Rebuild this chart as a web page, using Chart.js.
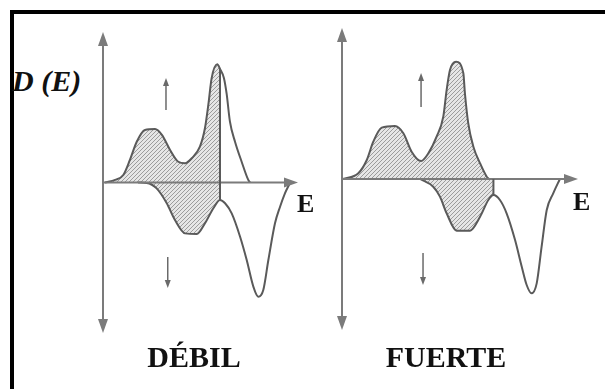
<!DOCTYPE html>
<html lang="es">
<head>
<meta charset="utf-8">
<title>Densidad de estados D(E): débil y fuerte</title>
<script src="https://cdn.jsdelivr.net/npm/chart.js@4.4.1/dist/chart.umd.min.js"></script>
<style>
  html, body { margin: 0; padding: 0; background: #fff; }
  #stage { position: relative; width: 605px; height: 389px; overflow: hidden; background: #fff; }
  .frame { position: absolute; left: 10px; top: 10px; right: -20px; bottom: -20px;
           border-left: 4px solid #000; border-top: 4px solid #000; }
  canvas.panel { position: absolute; }
  .lbl { position: absolute; font-family: "Liberation Serif", "DejaVu Serif", serif; font-weight: bold;
         color: #111; line-height: 1; white-space: nowrap; }
  .title { width: 200px; text-align: center; font-size: 30px; top: 342px; }
  .axis-e { font-size: 26px; }
  .dos { font-size: 30px; font-style: italic; left: 12px; top: 66px; }
</style>
</head>
<body>
<div id="stage">
  <div class="frame"></div>
  <canvas id="debil" class="panel" width="215" height="321" style="left:93px;top:22px"></canvas>
  <canvas id="fuerte" class="panel" width="256" height="322" style="left:332px;top:18px"></canvas>
  <div class="lbl dos">D (E)</div>
  <div class="lbl axis-e" style="left:297px;top:191px">E</div>
  <div class="lbl axis-e" style="left:573px;top:189px">E</div>
  <div class="lbl title" style="left:94px">DÉBIL</div>
  <div class="lbl title" style="left:346px">FUERTE</div>
</div>
<script>
// ---- datos: energía E y densidad de estados D(E) por banda de espín ----

// caso débil
const debilUpE   = [0.1, 0.62, 1.04, 1.38, 1.73, 2.15, 2.67, 3.02, 3.44, 3.86, 4.21, 4.55, 4.97, 5.23, 5.40, 5.57, 5.86, 6.0, 6.2, 6.34, 6.51, 6.77, 7.11, 7.45, 7.54];
const debilUpD   = [0, 0.17, 0.50, 1.50, 2.71, 3.49, 3.55, 3.16, 2.16, 1.38, 1.28, 1.61, 2.38, 3.62, 5.15, 6.92, 7.85, 7.55, 6.95, 5.9, 4.04, 2.71, 1.38, 0.17, 0];
const debilDownE = [1.8, 2.24, 2.75, 3.27, 3.69, 4.21, 4.81, 5.23, 5.66, 6.0, 6.26, 6.60, 7.03, 7.37, 7.71, 7.96, 8.22, 8.48, 8.82, 9.08, 9.33, 9.6];
const debilDownD = [0, -0.03, -0.39, -1.38, -2.49, -3.38, -3.42, -2.71, -1.71, -1.16, -1.38, -2.05, -3.60, -5.15, -6.92, -7.59, -7.14, -5.15, -2.71, -1.61, -0.72, 0];
const debilEF    = 6.0;   // nivel de Fermi
const debilEMax  = 10;
// flechas de espín: posición en E, desde D, hasta D
const debilArrowE    = [3.23, 3.32];
const debilArrowFrom = [4.82, -4.95];
const debilArrowTo   = [6.94, -7.01];

// caso fuerte
const fuerteUpE   = [0.05, 0.83, 1.26, 1.59, 2.02, 2.69, 3.12, 3.54, 4.02, 4.39, 4.81, 5.15, 5.32, 5.49, 5.80, 6.17, 6.25, 6.42, 6.68, 7.02, 7.36, 7.47];
const fuerteUpD   = [0, 0.38, 1.26, 2.47, 3.40, 3.51, 3.03, 1.81, 1.19, 1.70, 2.80, 4.13, 5.89, 7.22, 7.77, 7.00, 5.68, 3.69, 2.14, 1.04, 0.15, 0];
const fuerteDownE = [3.97, 4.64, 4.98, 5.32, 5.83, 6.51, 7.02, 7.44, 7.7, 8.03, 8.37, 8.80, 9.14, 9.39, 9.64, 9.90, 10.15, 10.41, 10.74, 11.08];
const fuerteDownD = [0, -0.51, -1.17, -2.27, -3.42, -3.42, -2.50, -1.39, -1.06, -1.39, -2.27, -4.04, -5.81, -7.02, -7.57, -6.91, -4.48, -2.05, -0.95, 0];
const fuerteEF    = 7.7;
const fuerteEMax  = 12;
const fuerteArrowE    = [4.02, 4.12];
const fuerteArrowFrom = [4.77, -4.90];
const fuerteArrowTo   = [7.02, -7.02];

const D_MIN = -10, D_MAX = 10;

const AXIS_COLOR  = '#7b7b7b';
const CURVE_COLOR = '#5a5a5a';

// rayado diagonal para los estados ocupados
function makeHatch(ctx) {
  const c = document.createElement('canvas');
  c.width = 4; c.height = 4;
  const g = c.getContext('2d');
  g.fillStyle = '#e6e6e6';
  g.fillRect(0, 0, 4, 4);
  g.strokeStyle = '#9c9c9c';
  g.lineWidth = 1;
  [[-1, 5, 5, -1], [-1, 1, 1, -1], [3, 5, 5, 3]].forEach(([a, b, c2, d]) => {
    g.beginPath(); g.moveTo(a, b); g.lineTo(c2, d); g.stroke();
  });
  return ctx.createPattern(c, 'repeat');
}

function toPoints(es, ds) {
  return es.map((e, i) => ({ x: e, y: ds[i] }));
}

function valueAt(es, ds, e) {
  const i = es.indexOf(e);
  return i >= 0 ? ds[i] : 0;
}

function arrowHead(ctx, x, y, dx, dy, len, half) {
  ctx.beginPath();
  ctx.moveTo(x, y);
  ctx.lineTo(x - dx * len - dy * half, y - dy * len + dx * half);
  ctx.lineTo(x - dx * len + dy * half, y - dy * len - dx * half);
  ctx.closePath();
  ctx.fill();
}

// relleno rayado hasta E_F, ejes con flechas, línea de Fermi y flechas de espín
function makeDosPlugin(p) {
  let hatch = null;
  return {
    id: 'dos',
    beforeDatasetsDraw(chart) {
      const { ctx, chartArea: a, scales: { x, y } } = chart;
      if (!hatch) hatch = makeHatch(ctx);
      const xf = x.getPixelForValue(p.ef);
      const y0 = y.getPixelForValue(0);
      chart.data.datasets.forEach((ds, i) => {
        const meta = chart.getDatasetMeta(i);
        const line = meta.dataset, pts = meta.data;
        if (!pts.length) return;
        ctx.save();
        ctx.beginPath();
        ctx.rect(a.left, a.top, xf - a.left, a.bottom - a.top);
        ctx.clip();
        ctx.beginPath();
        if (line && typeof line.path === 'function') {
          line.updateControlPoints(a, 'x');
          line.path(ctx);
        } else {
          pts.forEach((pt, k) => (k ? ctx.lineTo(pt.x, pt.y) : ctx.moveTo(pt.x, pt.y)));
        }
        ctx.lineTo(pts[pts.length - 1].x, y0);
        ctx.lineTo(pts[0].x, y0);
        ctx.closePath();
        ctx.fillStyle = hatch;
        ctx.fill();
        ctx.restore();
      });
    },
    afterDatasetsDraw(chart) {
      const { ctx, scales: { x, y } } = chart;
      const x0 = x.getPixelForValue(0);
      const y0 = y.getPixelForValue(0);
      const yTop = y.getPixelForValue(D_MAX);
      const yBot = y.getPixelForValue(D_MIN);
      const xEnd = x.getPixelForValue(x.max);
      ctx.save();

      // ejes
      ctx.strokeStyle = AXIS_COLOR;
      ctx.fillStyle = AXIS_COLOR;
      ctx.lineWidth = 2;
      ctx.beginPath();
      ctx.moveTo(x0, yTop + 8); ctx.lineTo(x0, yBot - 8);
      ctx.moveTo(x0, y0); ctx.lineTo(xEnd - 8, y0);
      ctx.stroke();
      arrowHead(ctx, x0, yTop, 0, -1, 14, 5);
      arrowHead(ctx, x0, yBot, 0, 1, 14, 5);
      arrowHead(ctx, xEnd, y0, 1, 0, 14, 5);

      // nivel de Fermi: borde derecho de los estados ocupados
      const xf = x.getPixelForValue(p.ef);
      ctx.strokeStyle = CURVE_COLOR;
      ctx.lineWidth = 2;
      ctx.beginPath();
      ctx.moveTo(xf, y.getPixelForValue(valueAt(p.upE, p.upD, p.ef)));
      ctx.lineTo(xf, y.getPixelForValue(valueAt(p.downE, p.downD, p.ef)));
      ctx.stroke();

      // flechas de espín
      ctx.strokeStyle = '#6a6a6a';
      ctx.fillStyle = '#6a6a6a';
      ctx.lineWidth = 1.5;
      p.arrowE.forEach((e, i) => {
        const ax = x.getPixelForValue(e);
        const ya = y.getPixelForValue(p.arrowFrom[i]);
        const yb = y.getPixelForValue(p.arrowTo[i]);
        const dir = yb < ya ? -1 : 1;
        ctx.beginPath();
        ctx.moveTo(ax, ya); ctx.lineTo(ax, yb - dir * 5);
        ctx.stroke();
        arrowHead(ctx, ax, yb, 0, dir, 8, 3);
      });
      ctx.restore();
    }
  };
}

function drawPanel(id, p) {
  new Chart(document.getElementById(id), {
    type: 'line',
    data: {
      datasets: [
        { label: 'espín ↑', data: toPoints(p.upE, p.upD) },
        { label: 'espín ↓', data: toPoints(p.downE, p.downD) }
      ]
    },
    options: {
      responsive: false,
      animation: false,
      events: [],
      layout: { padding: 10 },
      plugins: { legend: { display: false }, tooltip: { enabled: false } },
      scales: {
        x: { type: 'linear', min: 0, max: p.eMax, display: false },
        y: { type: 'linear', min: D_MIN, max: D_MAX, display: false }
      },
      elements: {
        point: { radius: 0 },
        line: { borderColor: CURVE_COLOR, borderWidth: 2, cubicInterpolationMode: 'monotone', fill: false }
      }
    },
    plugins: [makeDosPlugin(p)]
  });
}

drawPanel('debil', {
  upE: debilUpE, upD: debilUpD, downE: debilDownE, downD: debilDownD,
  ef: debilEF, eMax: debilEMax,
  arrowE: debilArrowE, arrowFrom: debilArrowFrom, arrowTo: debilArrowTo
});
drawPanel('fuerte', {
  upE: fuerteUpE, upD: fuerteUpD, downE: fuerteDownE, downD: fuerteDownD,
  ef: fuerteEF, eMax: fuerteEMax,
  arrowE: fuerteArrowE, arrowFrom: fuerteArrowFrom, arrowTo: fuerteArrowTo
});
</script>
</body>
</html>
